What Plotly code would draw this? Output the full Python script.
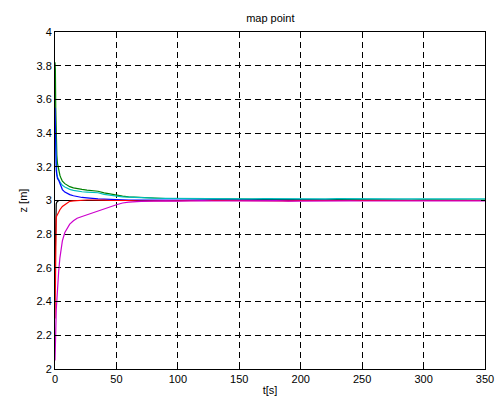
import plotly.graph_objects as go

t = [0, 0.3, 0.6, 1, 1.5, 2, 3, 4, 5, 6, 8, 10, 12, 15, 18, 22, 26, 30, 35, 40, 45, 50,
     55, 60, 70, 80, 90, 100, 110, 120, 130, 140, 150, 160, 170, 180, 190, 200, 210,
     220, 230, 240, 250, 260, 270, 280, 290, 300, 310, 320, 330, 340, 350]

z_black = [2.60, 2.85, 2.95, 2.98, 2.99, 2.995, 3.0, 3.0, 3.0, 3.0, 3.0, 3.0, 3.0, 3.0, 3.0, 3.0,
           3.0, 3.0, 3.0, 3.0, 3.0, 3.0, 3.0, 3.0, 3.0, 3.0, 3.0, 3.0, 3.0, 3.0, 3.0, 3.0, 3.0,
           3.0, 3.0, 3.0, 3.0, 3.0, 3.0, 3.0, 3.0, 3.0, 3.0, 3.0, 3.0, 3.0, 3.0, 3.0, 3.0, 3.0,
           3.0, 3.0, 3.0]
z_green = [3.82, 3.78, 3.55, 3.34, 3.27, 3.22, 3.17, 3.15, 3.13, 3.115, 3.10, 3.09, 3.082, 3.075,
           3.07, 3.066, 3.062, 3.058, 3.055, 3.045, 3.038, 3.03, 3.026, 3.022, 3.018, 3.015,
           3.012, 3.012, 3.01, 3.01, 3.008, 3.01, 3.008, 3.006, 3.007, 3.005, 3.006, 3.004,
           3.005, 3.004, 3.005, 3.004, 3.004, 3.003, 3.004, 3.003, 3.003, 3.004, 3.003, 3.003,
           3.004, 3.003, 3.003]
z_cyan = [3.48, 3.40, 3.28, 3.20, 3.16, 3.14, 3.12, 3.11, 3.10, 3.09, 3.08, 3.072, 3.066, 3.06,
          3.056, 3.052, 3.05, 3.048, 3.046, 3.036, 3.03, 3.025, 3.022, 3.02, 3.016, 3.014,
          3.013, 3.012, 3.012, 3.011, 3.011, 3.012, 3.011, 3.01, 3.011, 3.01, 3.01, 3.011,
          3.01, 3.01, 3.011, 3.01, 3.01, 3.01, 3.011, 3.01, 3.01, 3.01, 3.01, 3.01, 3.01,
          3.01, 3.01]
z_blue = [3.55, 3.40, 3.25, 3.18, 3.15, 3.13, 3.12, 3.10, 3.08, 3.065, 3.05, 3.04, 3.035, 3.028,
          3.022, 3.018, 3.016, 3.012, 3.01, 3.008, 3.006, 3.005, 3.004, 3.003, 3.002, 3.002,
          3.001, 3.001, 3.0, 3.001, 3.0, 3.0, 3.001, 3.0, 3.0, 3.0, 3.001, 3.0, 3.0, 3.0, 3.0,
          3.0, 3.0, 3.0, 3.0, 3.0, 3.0, 3.0, 3.0, 3.0, 3.0, 3.0, 3.0]
z_red = [2.30, 2.75, 2.88, 2.90, 2.91, 2.92, 2.93, 2.945, 2.955, 2.965, 2.975, 2.985, 2.995,
         2.998, 3.0, 3.002, 3.003, 3.003, 3.004, 3.002, 3.0, 3.001, 2.998, 3.0, 2.997, 2.998,
         3.0, 2.999, 3.0, 3.001, 3.0, 3.0, 2.999, 3.0, 3.0, 3.0, 2.998, 3.0, 3.0, 3.0, 3.002,
         3.0, 3.0, 3.0, 3.0, 3.0, 3.0, 3.0, 3.0, 3.0, 3.0, 3.0, 3.0]
z_magenta = [2.05, 2.10, 2.22, 2.35, 2.42, 2.48, 2.58, 2.66, 2.72, 2.76, 2.81, 2.84, 2.86, 2.88,
             2.895, 2.905, 2.915, 2.925, 2.94, 2.95, 2.965, 2.975, 2.985, 2.99, 2.995, 2.997,
             2.998, 2.996, 2.998, 2.999, 2.997, 2.998, 2.998, 2.997, 2.998, 2.999, 2.996, 2.997,
             2.998, 2.998, 2.997, 2.998, 2.997, 2.998, 2.998, 2.997, 2.998, 2.998, 2.998, 2.998,
             2.998, 2.998, 2.998]

series = [("black", "#000000", z_black), ("green", "#008000", z_green), ("cyan", "#00BFBF", z_cyan),
          ("blue", "#0000FF", z_blue), ("red", "#FF0000", z_red), ("magenta", "#CC00CC", z_magenta)]

fig = go.Figure()
for name, col, z in series:
    fig.add_trace(go.Scatter(x=t, y=z, mode="lines", name=name,
                             line=dict(color=col, width=1.2), showlegend=False))

font = dict(family="Liberation Sans, Arial", size=11, color="black")
axis_common = dict(showline=True, linecolor="black", linewidth=1, mirror="ticks",
                   ticks="inside", ticklen=4, tickcolor="black", automargin=False,
                   showgrid=True, gridcolor="black", gridwidth=1, griddash="6px,4px",
                   zeroline=False, tickfont=font)

fig.update_layout(
    width=496, height=409,
    margin=dict(l=55, r=11, t=32, b=40),
    paper_bgcolor="white", plot_bgcolor="white",
    title=dict(text="map point", x=0.545, xanchor="center", y=0.955, yanchor="middle", font=font),
    xaxis=dict(range=[0, 350], tickvals=[0, 50, 100, 150, 200, 250, 300, 350],
               title=dict(text="t[s]", font=font, standoff=2), **axis_common),
    yaxis=dict(range=[2, 4], tickvals=[2, 2.2, 2.4, 2.6, 2.8, 3, 3.2, 3.4, 3.6, 3.8, 4],
               ticktext=["2", "2.2", "2.4", "2.6", "2.8", "3", "3.2", "3.4", "3.6", "3.8", "4"],
               title=dict(text="z [m]", font=font, standoff=6), **axis_common),
)

fig.write_html("out.html")
